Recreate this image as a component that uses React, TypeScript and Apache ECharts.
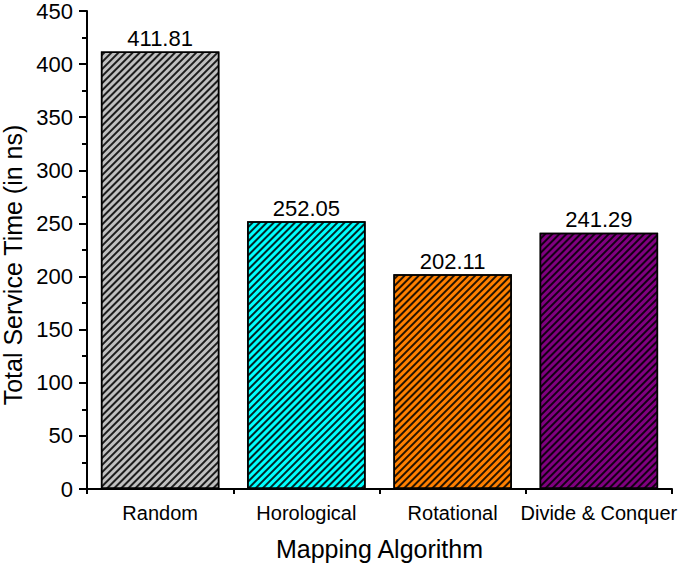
import React, { useEffect, useRef } from "react";
import * as echarts from "echarts";

const categories = ["Random", "Horological", "Rotational", "Divide & Conquer"];
const values = [411.81, 252.05, 202.11, 241.29];
const barColors = ["#c0c0c0", "#00ffff", "#ff8000", "#800080"];
const yTicks = [0, 50, 100, 150, 200, 250, 300, 350, 400, 450];

export default function App() {
  const ref = useRef<HTMLDivElement>(null);
  useEffect(() => {
    const chart = echarts.init(ref.current!, null, { renderer: "svg" });
    const font = "Liberation Sans, Arial, sans-serif";
    chart.setOption({
      animation: false,
      grid: { left: 87, right: 13, top: 11, bottom: 78, containLabel: false, outerBoundsMode: "none" },
      xAxis: [
        {
          type: "category",
          data: categories,
          position: "bottom",
          axisLine: { lineStyle: { color: "#000", width: 2 } },
          axisTick: { alignWithLabel: true, length: 8, lineStyle: { color: "#000", width: 2 } },
          axisLabel: { color: "#000", fontSize: 20, fontFamily: font, margin: 14, interval: 0 },
          name: "Mapping Algorithm",
          nameLocation: "middle",
          nameGap: 47,
          nameTextStyle: { color: "#000", fontSize: 25, fontFamily: font },
        },
        {
          type: "category",
          data: categories,
          position: "bottom",
          axisLine: { show: false },
          axisTick: { show: true, length: 5, lineStyle: { color: "#000", width: 2 } },
          axisLabel: { show: false },
        },
      ],
      yAxis: {
        type: "value",
        min: yTicks[0],
        max: yTicks[yTicks.length - 1],
        interval: 50,
        axisLine: { show: true, lineStyle: { color: "#000", width: 2 } },
        axisTick: { show: true, length: 8, lineStyle: { color: "#000", width: 2 } },
        minorTick: { show: true, splitNumber: 2, length: 5, lineStyle: { color: "#000", width: 2 } },
        splitLine: { show: false },
        axisLabel: { color: "#000", fontSize: 22, fontFamily: font, margin: 14 },
        name: "Total Service Time (in ns)",
        nameLocation: "middle",
        nameGap: 60,
        nameTextStyle: { color: "#000", fontSize: 25, fontFamily: font, padding: [0, 30, 0, 0] },
      },
      series: [
        {
          type: "bar",
          xAxisIndex: 0,
          barCategoryGap: "19%",
          data: values.map((v, i) => ({
            value: v,
            itemStyle: {
              color: barColors[i],
              borderColor: "#000",
              borderWidth: 1.5,
              decal: {
                symbol: "rect",
                symbolSize: 1,
                color: "rgba(0,0,0,0.85)",
                dashArrayX: [1, 0],
                dashArrayY: [1.5, 2.5],
                rotation: -Math.PI / 4,
              },
            },
          })),
          label: {
            show: true,
            position: "top",
            distance: 2,
            color: "#000",
            fontSize: 22,
            fontFamily: font,
            formatter: (p: any) => p.value.toFixed(2),
          },
        },
      ],
    });
    return () => chart.dispose();
  }, []);
  return <div ref={ref} style={{ width: 685, height: 567, position: "absolute", left: 0, top: 0 }} />;
}
